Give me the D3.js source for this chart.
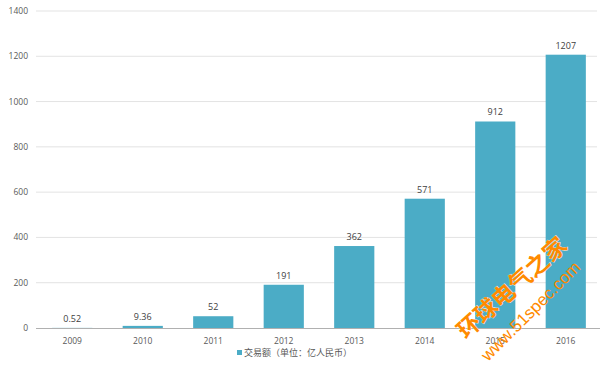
<!DOCTYPE html>
<html>
<head>
<meta charset="utf-8">
<script src="https://cdn.jsdelivr.net/npm/d3@7"></script>
<style>
	body { margin: 0; background: #fff; }
	svg text { font-family: "Open Sans", "Noto Sans CJK SC", sans-serif; }
</style>
</head>
<body>
<div id="viz"><svg width="600" height="366"></svg></div>
<script>
const years = ['2009', '2010', '2011', '2012', '2013', '2014', '2015', '2016'];
const values = [0.52, 9.36, 52, 191, 362, 571, 912, 1207];
const labels = ['0.52', '9.36', '52', '191', '362', '571', '912', '1207'];
const yTicks = [0, 200, 400, 600, 800, 1000, 1200, 1400];
const legendLabel = '交易额（单位：亿人民币）';

const svg = d3.select('#viz svg');

const scales = {
	x: d3.scaleBand().domain(years).range([37, 601]).paddingInner(0.43).paddingOuter(0.215),
	y: d3.scaleLinear().domain([0, 1400]).range([328, 11]),
};

// grid
svg.selectAll('line.grid')
	.data(yTicks.filter(t => t > 0))
	.enter()
		.append('line')
		.attr('x1', 36)
		.attr('x2', 597)
		.attr('y1', d => scales.y(d))
		.attr('y2', d => scales.y(d))
		.attr('stroke', '#e3e3e3')
		.attr('stroke-width', 1);

// y labels
svg.selectAll('text.ytick')
	.data(yTicks)
	.enter()
		.append('text')
		.attr('x', 28)
		.attr('y', d => scales.y(d))
		.attr('dy', '0.35em')
		.attr('text-anchor', 'end')
		.attr('font-size', 8.5)
		.attr('fill', '#595959')
		.text(d => d);

// bars
svg.selectAll('rect.bar')
	.data(values)
	.enter()
		.append('rect')
		.attr('x', (d, i) => scales.x(years[i]))
		.attr('width', scales.x.bandwidth())
		.attr('y', d => scales.y(d))
		.attr('height', d => scales.y(0) - scales.y(d))
		.attr('fill', '#4bacc6');

// axis line
svg.append('line')
	.attr('x1', 36).attr('x2', 600)
	.attr('y1', scales.y(0) + 0.5).attr('y2', scales.y(0) + 0.5)
	.attr('stroke', '#b0b0b0');

// value labels
svg.selectAll('text.val')
	.data(values)
	.enter()
		.append('text')
		.attr('x', (d, i) => scales.x(years[i]) + scales.x.bandwidth() / 2)
		.attr('y', d => scales.y(d) - 6)
		.attr('text-anchor', 'middle')
		.attr('font-size', 9)
		.attr('fill', '#404040')
		.text((d, i) => labels[i]);

// x labels
svg.selectAll('text.xtick')
	.data(years)
	.enter()
		.append('text')
		.attr('x', d => scales.x(d) + scales.x.bandwidth() / 2)
		.attr('y', 344)
		.attr('text-anchor', 'middle')
		.attr('font-size', 8.5)
		.attr('fill', '#595959')
		.text(d => d);

// legend
svg.append('rect')
	.attr('x', 237).attr('y', 350)
	.attr('width', 5).attr('height', 5)
	.attr('fill', '#4bacc6');
svg.append('text')
	.attr('x', 244).attr('y', 356)
	.attr('font-size', 9)
	.attr('fill', '#595959')
	.text(legendLabel);

// watermark
svg.append('text')
	.attr('transform', 'translate(466,340) rotate(-42)')
	.attr('font-size', 23)
	.attr('font-weight', 'bold')
	.attr('fill', '#ff8a00')
	.attr('stroke', '#fff')
	.attr('stroke-width', 0.6)
	.attr('paint-order', 'stroke')
	.style('font-family', '"Noto Sans CJK SC", sans-serif')
	.text('环球电气之家');
svg.append('text')
	.attr('transform', 'translate(488,362) rotate(-45)')
	.attr('font-size', 17)
	.attr('fill', '#ff8a00')
	.style('font-family', 'Arial, "Liberation Sans", sans-serif')
	.text('www.51spec.com');
</script>
</body>
</html>
